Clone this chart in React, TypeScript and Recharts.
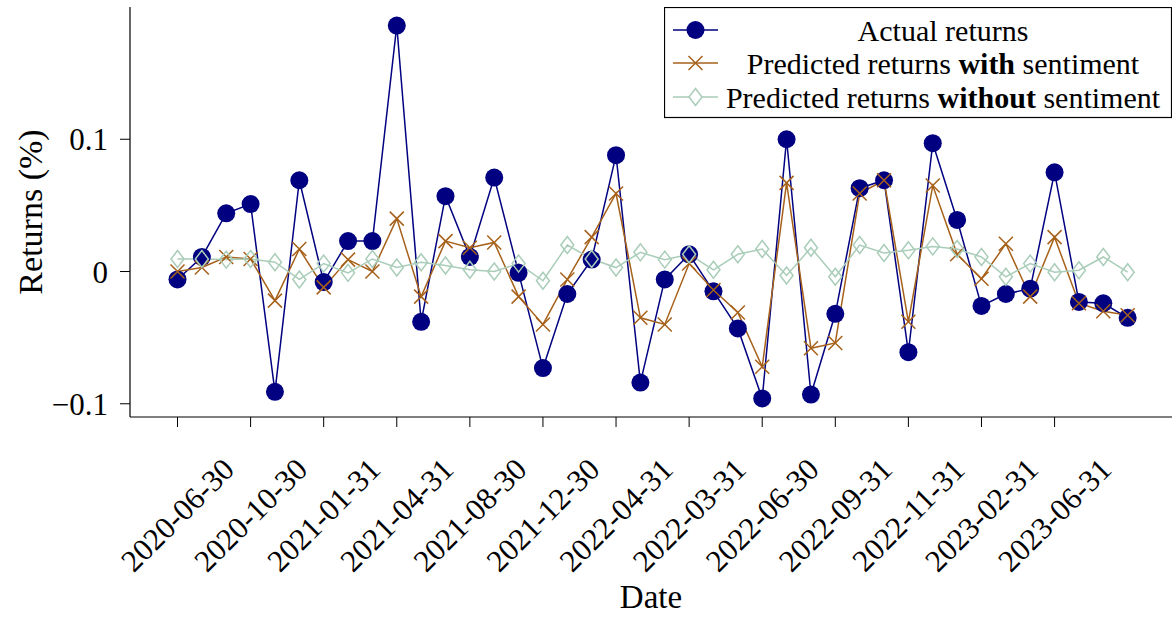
// Actual vs predicted returns, with and without sentiment

import React from 'react';
import { LineChart, Line, XAxis, YAxis, Legend } from 'recharts';

const tickLabels = [
  '2020-06-30', '2020-10-30', '2021-01-31', '2021-04-31', '2021-08-30',
  '2021-12-30', '2022-04-31', '2022-03-31', '2022-06-30', '2022-09-31',
  '2022-11-31', '2023-02-31', '2023-06-31',
];
const tickIdx = [0, 3, 6, 9, 12, 15, 18, 21, 24, 27, 30, 33, 36];

const actual = [
  -0.006, 0.011, 0.044, 0.051, -0.091, 0.069, -0.008, 0.023, 0.023, 0.186,
  -0.038, 0.057, 0.011, 0.071, -0.001, -0.073, -0.017, 0.009, 0.088, -0.084,
  -0.006, 0.013, -0.015, -0.043, -0.096, 0.1, -0.093, -0.032, 0.063, 0.069,
  -0.061, 0.097, 0.039, -0.026, -0.017, -0.013, 0.075, -0.023, -0.024, -0.035,
];
const withSentiment = [
  0.0, 0.003, 0.011, 0.0095, -0.022, 0.017, -0.012, 0.009, 0.0, 0.04,
  -0.019, 0.023, 0.018, 0.022, -0.019, -0.04, -0.006, 0.026, 0.059, -0.035,
  -0.04, 0.006, -0.014, -0.031, -0.072, 0.067, -0.058, -0.054, 0.059, 0.069,
  -0.038, 0.065, 0.013, -0.0055, 0.021, -0.019, 0.026, -0.024, -0.03, -0.033,
];
const withoutSentiment = [
  0.0095, 0.0095, 0.009, 0.0095, 0.007, -0.006, 0.006, -0.001, 0.0095, 0.003,
  0.007, 0.0045, 0.0013, 0.0, 0.006, -0.007, 0.02, 0.0095, 0.003, 0.0145,
  0.009, 0.013, 0.0013, 0.013, 0.017, -0.003, 0.018, -0.004, 0.02, 0.014,
  0.016, 0.019, 0.017, 0.011, -0.004, 0.006, -0.0005, 0.001, 0.011, -0.0005,
];

const NAVY = '#000080';
const BROWN = '#a6611a';
const SAGE = '#a9cdb9';
const FONT = "'Liberation Serif', 'Times New Roman', serif";

const data = actual.map((v, i) => ({
  idx: i,
  actual: v,
  withS: withSentiment[i],
  withoutS: withoutSentiment[i],
}));

const CircleDot = (p: any) =>
  p.cx == null ? null : <circle key={`c${p.index}`} cx={p.cx} cy={p.cy} r={9} fill={NAVY} />;

const CrossDot = (p: any) => {
  if (p.cx == null) return null;
  const s = 7;
  return (
    <path
      key={`x${p.index}`}
      d={`M${p.cx - s},${p.cy - s}L${p.cx + s},${p.cy + s}M${p.cx - s},${p.cy + s}L${p.cx + s},${p.cy - s}`}
      stroke={BROWN}
      strokeWidth={1.5}
      fill="none"
    />
  );
};

const DiamondDot = (p: any) => {
  if (p.cx == null) return null;
  const w = 6.5;
  const h = 8.5;
  return (
    <path
      key={`d${p.index}`}
      d={`M${p.cx},${p.cy - h}L${p.cx + w},${p.cy}L${p.cx},${p.cy + h}L${p.cx - w},${p.cy}Z`}
      stroke={SAGE}
      strokeWidth={1.5}
      fill="none"
    />
  );
};

const XTick = (props: any) => {
  const { x, y, payload } = props;
  const pos = tickIdx.indexOf(payload.value);
  const cy = y + 86;
  return (
    <text
      x={x}
      y={cy}
      textAnchor="middle"
      dominantBaseline="central"
      transform={`rotate(-45, ${x}, ${cy})`}
      fontSize={31}
      fontFamily={FONT}
      fill="#000"
    >
      {pos >= 0 ? tickLabels[pos] : ''}
    </text>
  );
};

const LegendBox = () => {
  const rows = [
    { y: 23, color: NAVY, marker: 'circle', pre: 'Actual returns', bold: '', post: '' },
    { y: 56, color: BROWN, marker: 'cross', pre: 'Predicted returns ', bold: 'with', post: ' sentiment' },
    { y: 90, color: SAGE, marker: 'diamond', pre: 'Predicted returns ', bold: 'without', post: ' sentiment' },
  ];
  return (
    <svg width={508} height={112} style={{ display: 'block' }}>
      <rect x={0.5} y={0.5} width={507} height={110} fill="#fff" stroke="#000" strokeWidth={1.2} />
      {rows.map((r) => (
        <g key={r.pre + r.bold}>
          <line x1={9} x2={54} y1={r.y} y2={r.y} stroke={r.color} strokeWidth={1.5} />
          {r.marker === 'circle' && <circle cx={31.5} cy={r.y} r={9} fill={NAVY} />}
          {r.marker === 'cross' && (
            <path
              d={`M24.5,${r.y - 7}L38.5,${r.y + 7}M24.5,${r.y + 7}L38.5,${r.y - 7}`}
              stroke={BROWN}
              strokeWidth={1.5}
            />
          )}
          {r.marker === 'diamond' && (
            <path
              d={`M31.5,${r.y - 8.5}L38,${r.y}L31.5,${r.y + 8.5}L25,${r.y}Z`}
              stroke={SAGE}
              strokeWidth={1.5}
              fill="#fff"
            />
          )}
          <text
            x={279}
            y={r.y}
            textAnchor="middle"
            dominantBaseline="central"
            fontSize={30}
            fontFamily={FONT}
            fill="#000"
          >
            {r.pre}
            {r.bold && <tspan fontWeight="bold">{r.bold}</tspan>}
            {r.post}
          </text>
        </g>
      ))}
    </svg>
  );
};

export default function App() {
  return (
    <div style={{ position: 'absolute', left: 0, top: 0, fontFamily: FONT }}>
      <LineChart
        width={1173}
        height={617}
        data={data}
        margin={{ top: 7, right: 1, bottom: 0, left: 0 }}
      >
        <XAxis
          xAxisId="main"
          dataKey="idx"
          type="number"
          domain={[-1.95, 40.82]}
          allowDataOverflow
          ticks={tickIdx}
          interval={0}
          height={200}
          tickSize={10}
          tick={<XTick />}
          axisLine={{ stroke: '#000', strokeWidth: 1.2 }}
          tickLine={{ stroke: '#000' }}
          label={{
            content: (lp: any) => (
              <text
                x={lp.viewBox.x + lp.viewBox.width / 2}
                y={lp.viewBox.y + 180}
                textAnchor="middle"
                dominantBaseline="central"
                fontSize={33}
                fontFamily={FONT}
                fill="#000"
              >
                Date
              </text>
            ),
          }}
        />
        <XAxis
          xAxisId="top"
          dataKey="idx"
          type="number"
          orientation="top"
          domain={[-1.95, 40.82]}
          allowDataOverflow
          height={0}
          tick={false}
          tickLine={false}
          axisLine={{ stroke: '#000', strokeWidth: 1.2 }}
        />
        <YAxis
          yAxisId="main"
          type="number"
          domain={[-0.11, 0.2]}
          allowDataOverflow
          ticks={[-0.1, 0, 0.1]}
          width={130}
          tickSize={10}
          tickMargin={12}
          tickFormatter={(v: number) => (v < 0 ? '\u2212' + Math.abs(v) : String(v))}
          tick={{ fill: '#000', fontSize: 31, fontFamily: FONT }}
          axisLine={{ stroke: '#000', strokeWidth: 1.2 }}
          tickLine={{ stroke: '#000' }}
          label={{
            content: (lp: any) => {
              const cy = lp.viewBox.y + lp.viewBox.height / 2;
              return (
                <text
                  x={30}
                  y={cy}
                  textAnchor="middle"
                  dominantBaseline="central"
                  transform={`rotate(-90, 30, ${cy})`}
                  fontSize={34}
                  fontFamily={FONT}
                  fill="#000"
                >
                  Returns (%)
                </text>
              );
            },
          }}
        />
        <YAxis
          yAxisId="right"
          orientation="right"
          type="number"
          domain={[-0.11, 0.2]}
          width={0}
          tick={false}
          tickLine={false}
          axisLine={{ stroke: '#000', strokeWidth: 1.2 }}
        />
        <Line
          xAxisId="main"
          yAxisId="main"
          dataKey="actual"
          name="Actual returns"
          stroke={NAVY}
          strokeWidth={1.5}
          dot={CircleDot}
          activeDot={false}
          isAnimationActive={false}
        />
        <Line
          xAxisId="main"
          yAxisId="main"
          dataKey="withS"
          name="Predicted returns with sentiment"
          stroke={BROWN}
          strokeWidth={1.5}
          dot={CrossDot}
          activeDot={false}
          isAnimationActive={false}
        />
        <Line
          xAxisId="main"
          yAxisId="main"
          dataKey="withoutS"
          name="Predicted returns without sentiment"
          stroke={SAGE}
          strokeWidth={1.5}
          dot={DiamondDot}
          activeDot={false}
          isAnimationActive={false}
        />
        <Legend
          layout="horizontal"
          verticalAlign="middle"
          align="center"
          content={() => <LegendBox />}
          wrapperStyle={{ left: 664, top: 7, width: 508, height: 112 }}
        />
      </LineChart>
    </div>
  );
}
